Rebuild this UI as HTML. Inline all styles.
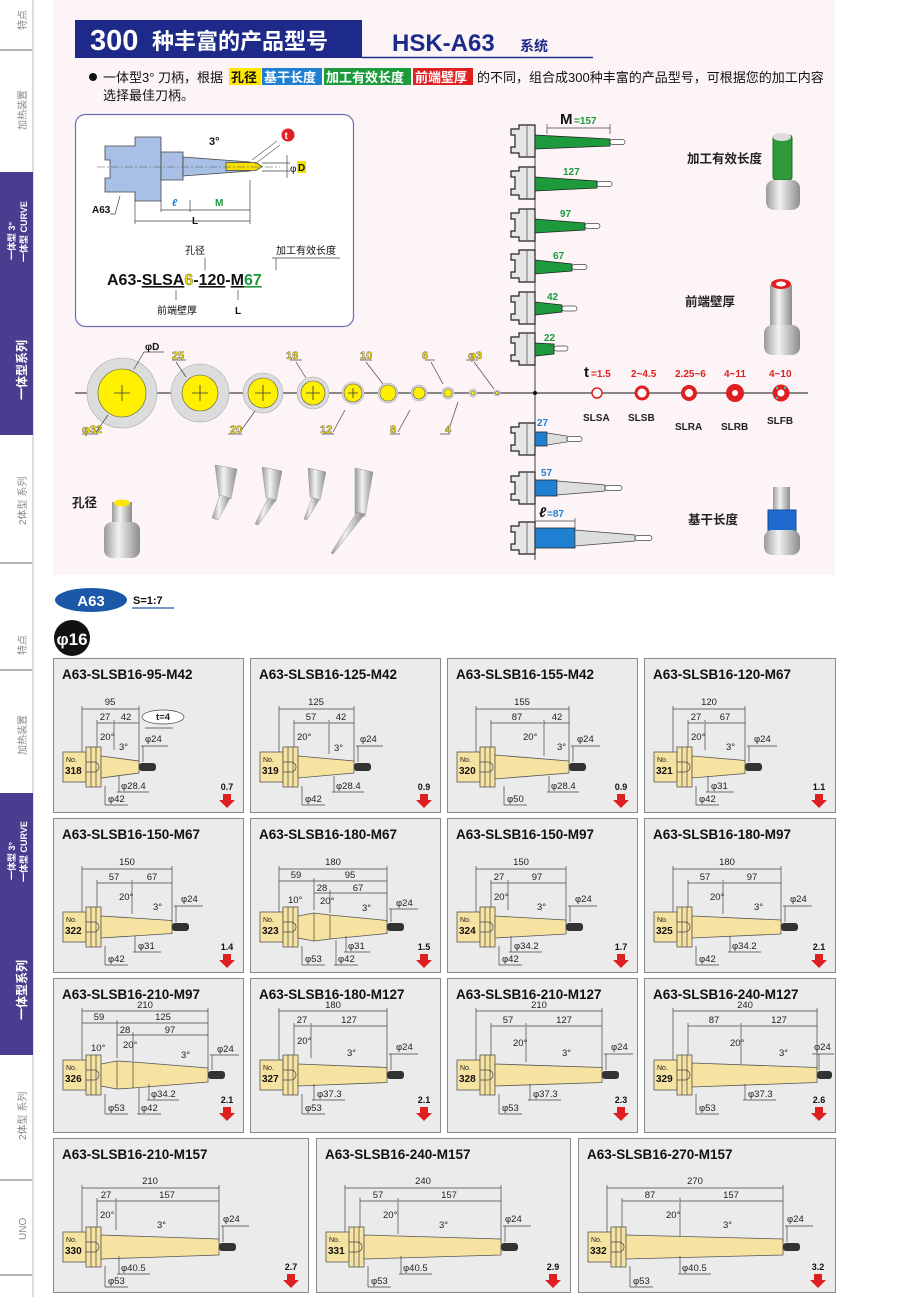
<!DOCTYPE html>
<html><head><meta charset="utf-8"><style>
body{margin:0;background:#fff}
svg{display:block;font-family:"Liberation Sans","Noto Sans CJK SC",sans-serif}
.cd{fill:#ebebeb;stroke:#8a8a8a;stroke-width:1}
.ct{font-size:13.5px;font-weight:bold;fill:#111}
.d{stroke:#444;stroke-width:.7;fill:none}
.dt{font-size:9.5px;fill:#222}
.b{fill:#f6e3a2;stroke:#555;stroke-width:.8}
.no{font-size:7px;fill:#222}
.nb{font-size:10px;font-weight:bold;fill:#111}
.rn{font-size:9px;font-weight:bold;fill:#111}
.ra{fill:#e02020}
.sb{font-size:10px;fill:#888}
.yl{font-size:11px;font-weight:bold;fill:#ffe600;stroke:#333;stroke-width:.35}
.gn{font-size:10px;font-weight:bold;fill:#1c9a3c}
.bl{font-size:10px;font-weight:bold;fill:#1f7fd0}
.rd{font-size:10px;font-weight:bold;fill:#e02020}
.lb{font-size:10px;font-weight:bold;fill:#222}
.cn{font-size:12.5px;font-weight:bold;fill:#222}
</style></head><body>
<svg width="900" height="1297" viewBox="0 0 900 1297" xmlns="http://www.w3.org/2000/svg">
<defs>
<g id="hd">
<rect x="10" y="94" width="23" height="30" class="b"/>
<rect x="33" y="89" width="15" height="40" class="b"/>
<path d="M38 89V129M43 89V129" class="d"/>
<path d="M33 104h8a5 5 0 0 1 0 10h-8" class="d"/>
</g>
<g id="gh">
<path d="M511 -12h8v-4h16v32h-16v-4h-8v-6h4v-12h-4z" fill="#e6e6e6" stroke="#222" stroke-width="1.2"/>
<path d="M527 -16v32" stroke="#555" stroke-width=".8"/>
</g>
<linearGradient id="cyl" x1="0" x2="1"><stop offset="0" stop-color="#9a9a9a"/><stop offset=".4" stop-color="#f2f2f2"/><stop offset="1" stop-color="#8c8c8c"/></linearGradient>
</defs>

<!-- sidebar -->
<line x1="33" y1="0" x2="33" y2="1297" stroke="#bbb" stroke-width="1"/>
<rect x="0" y="172" width="33" height="263" fill="#4a3d8f"/>
<rect x="0" y="793" width="33" height="262" fill="#4a3d8f"/>
<path d="M0 50H32M0 563H32M0 670H32M0 1180H32M0 1275H32" stroke="#888" stroke-width="1.2"/>
<text class="sb" transform="translate(26,30) rotate(-90)">特点</text>
<text class="sb" transform="translate(26,130) rotate(-90)">加热装置</text>
<text transform="translate(15,260) rotate(-90)" font-size="9" font-weight="bold" fill="#fff">一体型 3°</text>
<text transform="translate(27,262) rotate(-90)" font-size="9" font-weight="bold" fill="#fff">一体型 CURVE</text>
<text transform="translate(26,400) rotate(-90)" font-size="12" font-weight="bold" fill="#fff">一体型系列</text>
<text class="sb" transform="translate(26,525) rotate(-90)">2体型 系列</text>
<text class="sb" transform="translate(26,655) rotate(-90)">特点</text>
<text class="sb" transform="translate(26,755) rotate(-90)">加热装置</text>
<text transform="translate(15,880) rotate(-90)" font-size="9" font-weight="bold" fill="#fff">一体型 3°</text>
<text transform="translate(27,882) rotate(-90)" font-size="9" font-weight="bold" fill="#fff">一体型 CURVE</text>
<text transform="translate(26,1020) rotate(-90)" font-size="12" font-weight="bold" fill="#fff">一体型系列</text>
<text class="sb" transform="translate(26,1140) rotate(-90)">2体型 系列</text>
<text class="sb" transform="translate(26,1240) rotate(-90)">UNO</text>

<!-- top pink area -->
<rect x="53" y="0" width="782" height="575" fill="#fdf4f8"/>
<rect x="75" y="20" width="287" height="38" fill="#1e2a8a"/>
<text x="90" y="50" font-size="29" font-weight="bold" fill="#fff">300</text>
<text x="152" y="49" font-size="22" font-weight="bold" fill="#fff">种丰富的产品型号</text>
<line x1="362" y1="57.5" x2="593" y2="57.5" stroke="#1e2a8a" stroke-width="1.5"/>
<text x="392" y="51" font-size="24" font-weight="bold" fill="#1e2a8a">HSK-A63</text>
<text x="520" y="51" font-size="14" font-weight="bold" fill="#1e2a8a">系统</text>

<circle cx="93" cy="77" r="4" fill="#111"/>
<text x="103" y="82" font-size="13" fill="#111">一体型3° 刀柄，根据</text>
<rect x="229" y="68" width="32" height="17" fill="#ffe800"/>
<text x="231" y="82" font-size="13" font-weight="bold" fill="#111">孔径</text>
<rect x="262" y="68" width="60" height="17" fill="#1f7fd0"/>
<text x="264" y="82" font-size="13" font-weight="bold" fill="#fff">基干长度</text>
<rect x="324" y="68" width="87" height="17" fill="#1c9a3c"/>
<text x="326" y="82" font-size="13" font-weight="bold" fill="#fff">加工有效长度</text>
<rect x="413" y="68" width="60" height="17" fill="#e02020"/>
<text x="415" y="82" font-size="13" font-weight="bold" fill="#fff">前端壁厚</text>
<text x="477" y="82" font-size="13" fill="#111">的不同，组合成300种丰富的产品型号，可根据您的加工内容</text>
<text x="103" y="100" font-size="13" fill="#111">选择最佳刀柄。</text>

<!-- diagram box -->
<rect x="75.5" y="114.5" width="278" height="212" rx="10" fill="#fff" stroke="#6a6fb5" stroke-width="1.2"/>
<path d="M105 146h30v-9h26v64h-26v-9h-30v-14h5v-18h-5z" fill="#a9c0e6" stroke="#444" stroke-width=".8"/>
<path d="M161 152h22v28h-22z" fill="#a9c0e6" stroke="#444" stroke-width=".8"/>
<path d="M183 157L250 162V171L183 176z" fill="#a9c0e6" stroke="#444" stroke-width=".8"/>
<path d="M226 162.5h30l6 4l-6 4h-30z" fill="#f5df00" stroke="#444" stroke-width=".8"/>
<path d="M97 167H280" stroke="#555" stroke-width=".6" stroke-dasharray="8 2 2 2"/>
<path d="M209 114" />
<text x="209" y="145" font-size="11" font-weight="bold" fill="#111">3°</text>
<circle cx="288" cy="135" r="6.5" fill="#e02020"/><text x="284.5" y="139" font-size="10" font-weight="bold" fill="#fff">t</text>
<path d="M252 160L277 141M255 164L280 145" stroke="#666" stroke-width=".7"/>
<path d="M262 163H290M262 171H290M287 155V178" class="d"/>
<text x="290" y="172" font-size="10" fill="#111">φ</text>
<rect x="297" y="161" width="9" height="12" fill="#f5df00"/><text x="298" y="171" font-size="10" font-weight="bold" fill="#111">D</text>
<text x="92" y="213" font-size="10" font-weight="bold" fill="#111">A63</text>
<path d="M110 214h5l5-18" class="d"/>
<path d="M135 200V224M161 200V212M190 200V212M250 180V224M161 210H250M135 221H250" class="d"/>
<text x="172" y="206" font-size="10" font-weight="bold" fill="#1f7fd0" font-style="italic">ℓ</text>
<text x="215" y="206" font-size="10" font-weight="bold" fill="#1c9a3c">M</text>
<text x="192" y="224" font-size="10" font-weight="bold" fill="#111">L</text>
<text x="185" y="254" font-size="10" fill="#111">孔径</text>
<text x="276" y="254" font-size="10" fill="#111">加工有效长度</text>
<path d="M205 258v12M276 258v12M272 258H340" class="d"/>
<text x="107" y="285" font-size="16" font-weight="bold" fill="#111">A63-<tspan text-decoration="underline">SLSA</tspan><tspan fill="#f5df00" stroke="#555" stroke-width=".4">6</tspan>-<tspan text-decoration="underline">120</tspan>-<tspan text-decoration="underline">M</tspan><tspan fill="#1c9a3c" text-decoration="underline">67</tspan></text>
<path d="M176 290v10M238 290v10" class="d"/>
<text x="157" y="314" font-size="10" fill="#111">前端壁厚</text>
<text x="235" y="314" font-size="10" font-weight="bold" fill="#111">L</text>

<!-- axis -->
<line x1="75" y1="393" x2="808" y2="393" stroke="#444" stroke-width="1.2"/>
<line x1="535" y1="130" x2="535" y2="560" stroke="#444" stroke-width="1"/>
<circle cx="535" cy="393" r="2" fill="#111"/>
<g stroke="#aaa" stroke-width=".6">
<circle cx="122" cy="393" r="35" fill="#dcdcdc"/><circle cx="122" cy="393" r="24" fill="#ffef00" stroke="#555"/>
<circle cx="200" cy="393" r="29" fill="#dcdcdc"/><circle cx="200" cy="393" r="18" fill="#ffef00" stroke="#555"/>
<circle cx="263" cy="393" r="20" fill="#dcdcdc"/><circle cx="263" cy="393" r="15" fill="#ffef00" stroke="#555"/>
<circle cx="313" cy="393" r="16" fill="#dcdcdc"/><circle cx="313" cy="393" r="12" fill="#ffef00" stroke="#555"/>
<circle cx="353" cy="393" r="11" fill="#dcdcdc"/><circle cx="353" cy="393" r="9" fill="#ffef00" stroke="#555"/>
<circle cx="388" cy="393" r="10" fill="#dcdcdc"/><circle cx="388" cy="393" r="8" fill="#ffef00" stroke="#555"/>
<circle cx="419" cy="393" r="8" fill="#dcdcdc"/><circle cx="419" cy="393" r="6" fill="#ffef00" stroke="#555"/>
<circle cx="448" cy="393" r="6" fill="#dcdcdc"/><circle cx="448" cy="393" r="4" fill="#ffef00" stroke="#555"/>
<circle cx="473" cy="393" r="4" fill="#dcdcdc"/><circle cx="473" cy="393" r="2" fill="#ffef00" stroke="#555"/>
<circle cx="497" cy="393" r="3" fill="#dcdcdc"/><circle cx="497" cy="393" r="1.5" fill="#ffef00" stroke="#555"/>
</g>
<g stroke="#333" stroke-width=".8">
<path d="M114 393h16M122 385v16M192 393h16M200 385v16M255 393h16M263 385v16M306 393h14M313 386v14M348 393h10M353 388v10"/>
</g>
<g class="d">
<path d="M144 352h20M144 352l-10 17M172 360h14M176 362l10 15M290 360h12M296 362l10 16M360 360h12M366 362l17 22M425 360h10M431 362l12 22M466 360h12M474 362l20 27"/>
<path d="M82 434h16M96 432l12 -17M228 434h14M240 432l15-21M322 434h12M333 432l12-22M390 434h10M398 432l12-22M440 434h10M448 432l10-30"/>
</g>
<text x="145" y="350" font-size="10" font-weight="bold" fill="#111">φD</text>
<text x="172" y="359" class="yl">25</text>
<text x="286" y="359" class="yl">16</text>
<text x="360" y="359" class="yl">10</text>
<text x="422" y="359" class="yl">6</text>
<text x="468" y="359" class="yl">φ3</text>
<text x="82" y="433" class="yl">φ32</text>
<text x="230" y="433" class="yl">20</text>
<text x="320" y="433" class="yl">12</text>
<text x="390" y="433" class="yl">8</text>
<text x="445" y="433" class="yl">4</text>

<!-- wall thickness rings -->
<circle cx="597" cy="393" r="5" fill="#fff" stroke="#e02020" stroke-width="1.5"/>
<circle cx="642" cy="393" r="6" fill="#fff" stroke="#e02020" stroke-width="3"/>
<circle cx="689" cy="393" r="6" fill="#fff" stroke="#e02020" stroke-width="4"/>
<circle cx="735" cy="393" r="6" fill="#fff" stroke="#e02020" stroke-width="6"/>
<circle cx="781" cy="393" r="6" fill="#fff" stroke="#e02020" stroke-width="5"/>
<circle cx="777" cy="388" r="1.2" fill="#2cc"/><circle cx="785" cy="388" r="1.2" fill="#2cc"/><circle cx="777" cy="398" r="1.2" fill="#2cc"/>
<text x="584" y="377" font-size="15" font-weight="bold" fill="#111">t</text><text x="591" y="377" class="rd">=1.5</text>
<text x="631" y="377" class="rd">2~4.5</text>
<text x="675" y="377" class="rd">2.25~6</text>
<text x="724" y="377" class="rd">4~11</text>
<text x="769" y="377" class="rd">4~10</text>
<text x="583" y="421" class="lb">SLSA</text>
<text x="628" y="421" class="lb">SLSB</text>
<text x="675" y="430" class="lb">SLRA</text>
<text x="721" y="430" class="lb">SLRB</text>
<text x="767" y="424" class="lb">SLFB</text>

<!-- green holders -->
<g><use href="#gh" transform="translate(0,141)"/><path d="M535 135L610 139V146L535 149z" fill="#1c9a3c" stroke="#222" stroke-width=".8"/><rect x="610" y="139.5" width="15" height="5" rx="2.5" fill="#fff" stroke="#444" stroke-width=".7"/></g>
<g><use href="#gh" transform="translate(0,183)"/><path d="M535 177L597 181V188L535 191z" fill="#1c9a3c" stroke="#222" stroke-width=".8"/><rect x="597" y="181.5" width="15" height="5" rx="2.5" fill="#fff" stroke="#444" stroke-width=".7"/></g>
<g><use href="#gh" transform="translate(0,225)"/><path d="M535 219L585 223V230L535 233z" fill="#1c9a3c" stroke="#222" stroke-width=".8"/><rect x="585" y="223.5" width="15" height="5" rx="2.5" fill="#fff" stroke="#444" stroke-width=".7"/></g>
<g><use href="#gh" transform="translate(0,266)"/><path d="M535 260L572 264V271L535 274z" fill="#1c9a3c" stroke="#222" stroke-width=".8"/><rect x="572" y="264.5" width="15" height="5" rx="2.5" fill="#fff" stroke="#444" stroke-width=".7"/></g>
<g><use href="#gh" transform="translate(0,308)"/><path d="M535 302L562 305V312L535 315z" fill="#1c9a3c" stroke="#222" stroke-width=".8"/><rect x="562" y="306" width="15" height="5" rx="2.5" fill="#fff" stroke="#444" stroke-width=".7"/></g>
<g><use href="#gh" transform="translate(0,349)"/><path d="M535 343L554 344V354L535 356z" fill="#1c9a3c" stroke="#222" stroke-width=".8"/><rect x="554" y="346" width="14" height="5" rx="2.5" fill="#fff" stroke="#444" stroke-width=".7"/></g>
<path d="M547 128H610M547 124V134M610 124V134" class="d"/>
<text x="560" y="124" font-size="15" font-weight="bold" fill="#111">M</text><text x="574" y="124" class="gn">=157</text>
<text x="563" y="175" class="gn">127</text>
<text x="560" y="217" class="gn">97</text>
<text x="553" y="259" class="gn">67</text>
<text x="547" y="300" class="gn">42</text>
<text x="544" y="341" class="gn">22</text>
<!-- blue holders -->
<g><use href="#gh" transform="translate(0,439)"/><rect x="535" y="432" width="12" height="14" fill="#1f7fd0" stroke="#222" stroke-width=".8"/><path d="M547 433L567 436V442L547 445z" fill="#ddd" stroke="#444" stroke-width=".7"/><rect x="567" y="436.5" width="15" height="5" rx="2.5" fill="#fff" stroke="#444" stroke-width=".7"/></g>
<g><use href="#gh" transform="translate(0,488)"/><rect x="535" y="480" width="22" height="16" fill="#1f7fd0" stroke="#222" stroke-width=".8"/><path d="M557 481L605 485V491L557 495z" fill="#ddd" stroke="#444" stroke-width=".7"/><rect x="605" y="485.5" width="17" height="5" rx="2.5" fill="#fff" stroke="#444" stroke-width=".7"/></g>
<g><use href="#gh" transform="translate(0,538)"/><rect x="535" y="528" width="40" height="20" fill="#1f7fd0" stroke="#222" stroke-width=".8"/><path d="M575 530L635 535V541L575 546z" fill="#ddd" stroke="#444" stroke-width=".7"/><rect x="635" y="535.5" width="17" height="5" rx="2.5" fill="#fff" stroke="#444" stroke-width=".7"/></g>
<text x="537" y="426" class="bl">27</text>
<text x="541" y="476" class="bl">57</text>
<text x="539" y="517" font-size="14" font-weight="bold" font-style="italic" fill="#111">ℓ</text><text x="547" y="517" class="bl">=87</text>
<path d="M535 521H575M575 518V528" class="d"/>

<text x="687" y="163" class="cn">加工有效长度</text>
<text x="685" y="306" class="cn">前端壁厚</text>
<text x="688" y="524" class="cn">基干长度</text>
<text x="72" y="507" class="cn">孔径</text>

<!-- photo cylinders -->
<rect x="773" y="135" width="19" height="45" rx="3" fill="#2f9a3a" stroke="#1e6a27"/>
<ellipse cx="782" cy="137" rx="9" ry="4" fill="#ddd"/>
<rect x="766" y="180" width="34" height="30" rx="8" fill="url(#cyl)"/>
<rect x="770" y="285" width="22" height="45" fill="url(#cyl)"/>
<ellipse cx="781" cy="284" rx="10" ry="5" fill="#e02020"/><ellipse cx="781" cy="284" rx="5" ry="2.5" fill="#fff"/>
<rect x="764" y="325" width="36" height="30" rx="8" fill="url(#cyl)"/>
<rect x="773" y="487" width="17" height="25" fill="url(#cyl)"/>
<rect x="768" y="510" width="28" height="22" fill="#1f6ad0" stroke="#134a98"/>
<rect x="764" y="530" width="36" height="25" rx="8" fill="url(#cyl)"/>
<rect x="112" y="502" width="20" height="22" fill="url(#cyl)"/>
<ellipse cx="122" cy="503" rx="8" ry="3.5" fill="#ffe800"/>
<rect x="104" y="522" width="36" height="36" rx="8" fill="url(#cyl)"/>
<g fill="url(#cyl)" stroke="#999" stroke-width=".5">
<path d="M215 465l22 4l-6 30l-12-3z"/><path d="M220 495l10 3l-12 22l-6-2z"/>
<path d="M262 467l20 4l-6 30l-10-3z"/><path d="M268 498l8 2l-18 25l-3-1z"/>
<path d="M308 468l18 4l-6 28l-10-3z"/><path d="M312 498l7 2l-12 20l-3-1z"/>
<path d="M355 468l18 4l-8 45l-10-3z"/><path d="M357 512l8 2l-32 40l-2-1z"/>
</g>

<!-- A63 / scale -->
<ellipse cx="91" cy="600" rx="36" ry="12" fill="#1c58a8"/>
<text x="91" y="606" text-anchor="middle" font-size="15" font-weight="bold" fill="#fff">A63</text>
<text x="133" y="604" font-size="11" font-weight="bold" fill="#111">S=1:7</text>
<line x1="132" y1="608" x2="174" y2="608" stroke="#1c58a8" stroke-width="1.2"/>
<circle cx="72" cy="638" r="18" fill="#111"/>
<text x="72" y="645" text-anchor="middle" font-size="17" font-weight="bold" fill="#fff">φ16</text>

<!-- ROW 1 -->
<g transform="translate(53,658)">
<rect x=".5" y=".5" width="190" height="154" class="cd"/>
<text x="9" y="21" class="ct">A63-SLSB16-95-M42</text>
<path class="d" d="M29 51H86M44 65H60M61 65H86M29 48V100M86 48V104M44 62V90M61 62V92"/>
<text x="57" y="47" class="dt" text-anchor="middle">95</text><text x="52" y="62" class="dt" text-anchor="middle">27</text><text x="73" y="62" class="dt" text-anchor="middle">42</text>
<ellipse cx="110" cy="59" rx="21" ry="7" fill="#fff" stroke="#444" stroke-width=".7"/><text x="110" y="62" class="dt" text-anchor="middle" font-weight="bold">t=4</text>
<path class="d" d="M92 70H120"/>
<use href="#hd"/><polygon class="b" points="48,98 86,103 86,115 48,120"/><rect x="86" y="105" width="17" height="8" rx="3" fill="#333"/>
<text x="13" y="104" class="no">No.</text><text x="12" y="116" class="nb">318</text>
<text x="47" y="82" class="dt">20°</text><text x="66" y="92" class="dt">3°</text>
<text x="92" y="84" class="dt">φ24</text><path class="d" d="M88 88H115M90 88V104"/>
<text x="68" y="131" class="dt">φ28.4</text><path class="d" d="M64 134H96M66 134V118"/>
<text x="55" y="144" class="dt">φ42</text><path class="d" d="M52 147H75M52 147V128"/>
<text x="174" y="132" class="rn" text-anchor="middle">0.7</text><path class="ra" d="M170 136h8v6h4l-8 8l-8-8h4z"/>
</g>
<g transform="translate(250,658)">
<rect x=".5" y=".5" width="190" height="154" class="cd"/>
<text x="9" y="21" class="ct">A63-SLSB16-125-M42</text>
<path class="d" d="M29 51H104M44 65H78M79 65H104M29 48V100M104 48V104M44 62V90M79 62V96"/>
<text x="66" y="47" class="dt" text-anchor="middle">125</text><text x="61" y="62" class="dt" text-anchor="middle">57</text><text x="91" y="62" class="dt" text-anchor="middle">42</text>
<use href="#hd"/><polygon class="b" points="48,98 104,103 104,115 48,120"/><rect x="104" y="105" width="17" height="8" rx="3" fill="#333"/>
<text x="13" y="104" class="no">No.</text><text x="12" y="116" class="nb">319</text>
<text x="47" y="82" class="dt">20°</text><text x="84" y="93" class="dt">3°</text>
<text x="110" y="84" class="dt">φ24</text><path class="d" d="M106 88H133M108 88V104"/>
<text x="86" y="131" class="dt">φ28.4</text><path class="d" d="M82 134H114M84 134V118"/>
<text x="55" y="144" class="dt">φ42</text><path class="d" d="M52 147H75M52 147V128"/>
<text x="174" y="132" class="rn" text-anchor="middle">0.9</text><path class="ra" d="M170 136h8v6h4l-8 8l-8-8h4z"/>
</g>
<g transform="translate(447,658)">
<rect x=".5" y=".5" width="190" height="154" class="cd"/>
<text x="9" y="21" class="ct">A63-SLSB16-155-M42</text>
<path class="d" d="M29 51H122M44 65H96M97 65H122M29 48V100M122 48V104M44 62V90M97 62V98"/>
<text x="75" y="47" class="dt" text-anchor="middle">155</text><text x="70" y="62" class="dt" text-anchor="middle">87</text><text x="110" y="62" class="dt" text-anchor="middle">42</text>
<use href="#hd"/><polygon class="b" points="48,97 122,103 122,115 48,121"/><rect x="122" y="105" width="17" height="8" rx="3" fill="#333"/>
<text x="13" y="104" class="no">No.</text><text x="12" y="116" class="nb">320</text>
<text x="76" y="82" class="dt">20°</text><text x="110" y="92" class="dt">3°</text>
<text x="130" y="84" class="dt">φ24</text><path class="d" d="M124 88H153M126 88V104"/>
<text x="104" y="131" class="dt">φ28.4</text><path class="d" d="M100 134H132M102 134V118"/>
<text x="60" y="144" class="dt">φ50</text><path class="d" d="M57 147H80M57 147V128"/>
<text x="174" y="132" class="rn" text-anchor="middle">0.9</text><path class="ra" d="M170 136h8v6h4l-8 8l-8-8h4z"/>
</g>
<g transform="translate(644,658)">
<rect x=".5" y=".5" width="191" height="154" class="cd"/>
<text x="9" y="21" class="ct">A63-SLSB16-120-M67</text>
<path class="d" d="M29 51H101M44 65H60M61 65H101M29 48V100M101 48V104M44 62V90M61 62V92"/>
<text x="65" y="47" class="dt" text-anchor="middle">120</text><text x="52" y="62" class="dt" text-anchor="middle">27</text><text x="81" y="62" class="dt" text-anchor="middle">67</text>
<use href="#hd"/><polygon class="b" points="48,98 101,102.5 101,115.5 48,120"/><rect x="101" y="105" width="17" height="8" rx="3" fill="#333"/>
<text x="13" y="104" class="no">No.</text><text x="12" y="116" class="nb">321</text>
<text x="47" y="82" class="dt">20°</text><text x="82" y="92" class="dt">3°</text>
<text x="110" y="84" class="dt">φ24</text><path class="d" d="M103 88H133M105 88V104"/>
<text x="67" y="131" class="dt">φ31</text><path class="d" d="M62 134H90M64 134V118"/>
<text x="55" y="144" class="dt">φ42</text><path class="d" d="M52 147H75M52 147V128"/>
<text x="175" y="132" class="rn" text-anchor="middle">1.1</text><path class="ra" d="M171 136h8v6h4l-8 8l-8-8h4z"/>
</g>

<!-- ROW 2 -->
<g transform="translate(53,818)">
<rect x=".5" y=".5" width="190" height="154" class="cd"/>
<text x="9" y="21" class="ct">A63-SLSB16-150-M67</text>
<path class="d" d="M29 51H119M44 65H78M79 65H119M29 48V100M119 48V104M44 62V90M79 62V96"/>
<text x="74" y="47" class="dt" text-anchor="middle">150</text><text x="61" y="62" class="dt" text-anchor="middle">57</text><text x="99" y="62" class="dt" text-anchor="middle">67</text>
<use href="#hd"/><polygon class="b" points="48,98 119,102.5 119,115.5 48,120"/><rect x="119" y="105" width="17" height="8" rx="3" fill="#333"/>
<text x="13" y="104" class="no">No.</text><text x="12" y="116" class="nb">322</text>
<text x="66" y="82" class="dt">20°</text><text x="100" y="92" class="dt">3°</text>
<text x="128" y="84" class="dt">φ24</text><path class="d" d="M121 88H150M123 88V104"/>
<text x="85" y="131" class="dt">φ31</text><path class="d" d="M80 134H108M82 134V118"/>
<text x="55" y="144" class="dt">φ42</text><path class="d" d="M52 147H75M52 147V128"/>
<text x="174" y="132" class="rn" text-anchor="middle">1.4</text><path class="ra" d="M170 136h8v6h4l-8 8l-8-8h4z"/>
</g>
<g transform="translate(250,818)">
<rect x=".5" y=".5" width="190" height="154" class="cd"/>
<text x="9" y="21" class="ct">A63-SLSB16-180-M67</text>
<path class="d" d="M29 51H137M29 63H64M64 63H137M64 75H80M80 75H137M29 48V100M137 48V104M64 60V92M80 72V95"/>
<text x="83" y="47" class="dt" text-anchor="middle">180</text><text x="46" y="60" class="dt" text-anchor="middle">59</text><text x="100" y="60" class="dt" text-anchor="middle">95</text>
<text x="72" y="73" class="dt" text-anchor="middle">28</text><text x="108" y="73" class="dt" text-anchor="middle">67</text>
<use href="#hd"/><polygon class="b" points="48,98 64,95 80,97 137,102.5 137,115.5 80,121 64,123 48,120"/><path class="d" d="M64 95V123M80 97V121"/><rect x="137" y="105" width="17" height="8" rx="3" fill="#333"/>
<text x="13" y="104" class="no">No.</text><text x="12" y="116" class="nb">323</text>
<text x="38" y="85" class="dt">10°</text><text x="70" y="86" class="dt">20°</text><text x="112" y="93" class="dt">3°</text>
<text x="146" y="88" class="dt">φ24</text><path class="d" d="M139 91H168M141 91V104"/>
<text x="98" y="131" class="dt">φ31</text><path class="d" d="M94 134H120M96 134V118"/>
<text x="88" y="144" class="dt">φ42</text><path class="d" d="M84 147H108M86 147V122"/>
<text x="55" y="144" class="dt">φ53</text><path class="d" d="M52 147H75M52 147V128"/>
<text x="174" y="132" class="rn" text-anchor="middle">1.5</text><path class="ra" d="M170 136h8v6h4l-8 8l-8-8h4z"/>
</g>
<g transform="translate(447,818)">
<rect x=".5" y=".5" width="190" height="154" class="cd"/>
<text x="9" y="21" class="ct">A63-SLSB16-150-M97</text>
<path class="d" d="M29 51H119M44 65H60M61 65H119M29 48V100M119 48V104M44 62V90M61 62V92"/>
<text x="74" y="47" class="dt" text-anchor="middle">150</text><text x="52" y="62" class="dt" text-anchor="middle">27</text><text x="90" y="62" class="dt" text-anchor="middle">97</text>
<use href="#hd"/><polygon class="b" points="48,98 119,102 119,116 48,120"/><rect x="119" y="105" width="17" height="8" rx="3" fill="#333"/>
<text x="13" y="104" class="no">No.</text><text x="12" y="116" class="nb">324</text>
<text x="47" y="82" class="dt">20°</text><text x="90" y="92" class="dt">3°</text>
<text x="128" y="84" class="dt">φ24</text><path class="d" d="M121 88H150M123 88V104"/>
<text x="67" y="131" class="dt">φ34.2</text><path class="d" d="M62 134H95M64 134V118"/>
<text x="55" y="144" class="dt">φ42</text><path class="d" d="M52 147H75M52 147V128"/>
<text x="174" y="132" class="rn" text-anchor="middle">1.7</text><path class="ra" d="M170 136h8v6h4l-8 8l-8-8h4z"/>
</g>
<g transform="translate(644,818)">
<rect x=".5" y=".5" width="191" height="154" class="cd"/>
<text x="9" y="21" class="ct">A63-SLSB16-180-M97</text>
<path class="d" d="M29 51H137M44 65H78M79 65H137M29 48V100M137 48V104M44 62V90M79 62V96"/>
<text x="83" y="47" class="dt" text-anchor="middle">180</text><text x="61" y="62" class="dt" text-anchor="middle">57</text><text x="108" y="62" class="dt" text-anchor="middle">97</text>
<use href="#hd"/><polygon class="b" points="48,98 137,102 137,116 48,120"/><rect x="137" y="105" width="17" height="8" rx="3" fill="#333"/>
<text x="13" y="104" class="no">No.</text><text x="12" y="116" class="nb">325</text>
<text x="66" y="82" class="dt">20°</text><text x="110" y="92" class="dt">3°</text>
<text x="146" y="84" class="dt">φ24</text><path class="d" d="M139 88H168M141 88V104"/>
<text x="88" y="131" class="dt">φ34.2</text><path class="d" d="M84 134H117M86 134V118"/>
<text x="55" y="144" class="dt">φ42</text><path class="d" d="M52 147H75M52 147V128"/>
<text x="175" y="132" class="rn" text-anchor="middle">2.1</text><path class="ra" d="M171 136h8v6h4l-8 8l-8-8h4z"/>
</g>

<!-- ROW 3 -->
<g transform="translate(53,978)">
<rect x=".5" y=".5" width="190" height="154" class="cd"/>
<text x="9" y="21" class="ct">A63-SLSB16-210-M97</text>
<g transform="translate(0,-12)">
<path class="d" d="M29 45H155M29 57H64M64 57H155M64 69H80M80 69H155M29 42V100M155 42V104M64 54V92M80 66V95"/>
<text x="92" y="42" class="dt" text-anchor="middle">210</text><text x="46" y="54" class="dt" text-anchor="middle">59</text><text x="110" y="54" class="dt" text-anchor="middle">125</text>
<text x="72" y="67" class="dt" text-anchor="middle">28</text><text x="117" y="67" class="dt" text-anchor="middle">97</text>
<use href="#hd"/><polygon class="b" points="48,98 64,95 80,96 155,102 155,116 80,122 64,123 48,120"/><path class="d" d="M64 95V123M80 96V122"/><rect x="155" y="105" width="17" height="8" rx="3" fill="#333"/>
<text x="13" y="104" class="no">No.</text><text x="12" y="116" class="nb">326</text>
<text x="38" y="85" class="dt">10°</text><text x="70" y="82" class="dt">20°</text><text x="128" y="92" class="dt">3°</text>
<text x="164" y="86" class="dt">φ24</text><path class="d" d="M157 89H186M159 89V104"/>
<text x="98" y="131" class="dt">φ34.2</text><path class="d" d="M94 134H126M96 134V118"/>
<text x="88" y="145" class="dt">φ42</text><path class="d" d="M84 148H108M86 148V122"/>
<text x="55" y="145" class="dt">φ53</text><path class="d" d="M52 148H75M52 148V128"/>
<text x="174" y="137" class="rn" text-anchor="middle">2.1</text><path class="ra" d="M170 141h8v6h4l-8 8l-8-8h4z"/>
</g></g>
<g transform="translate(250,978)">
<rect x=".5" y=".5" width="190" height="154" class="cd"/>
<text x="9" y="21" class="ct">A63-SLSB16-180-M127</text>
<g transform="translate(0,-12)">
<path class="d" d="M29 45H137M44 60H60M61 60H137M29 42V100M137 42V104M44 57V90M61 57V92"/>
<text x="83" y="42" class="dt" text-anchor="middle">180</text><text x="52" y="57" class="dt" text-anchor="middle">27</text><text x="99" y="57" class="dt" text-anchor="middle">127</text>
<use href="#hd"/><polygon class="b" points="48,98 137,101.5 137,116.5 48,120"/><rect x="137" y="105" width="17" height="8" rx="3" fill="#333"/>
<text x="13" y="104" class="no">No.</text><text x="12" y="116" class="nb">327</text>
<text x="47" y="78" class="dt">20°</text><text x="97" y="90" class="dt">3°</text>
<text x="146" y="84" class="dt">φ24</text><path class="d" d="M139 88H168M141 88V104"/>
<text x="67" y="131" class="dt">φ37.3</text><path class="d" d="M62 134H95M64 134V118"/>
<text x="55" y="145" class="dt">φ53</text><path class="d" d="M52 148H75M52 148V128"/>
<text x="174" y="137" class="rn" text-anchor="middle">2.1</text><path class="ra" d="M170 141h8v6h4l-8 8l-8-8h4z"/>
</g></g>
<g transform="translate(447,978)">
<rect x=".5" y=".5" width="190" height="154" class="cd"/>
<text x="9" y="21" class="ct">A63-SLSB16-210-M127</text>
<g transform="translate(0,-12)">
<path class="d" d="M29 45H155M44 60H78M79 60H155M29 42V100M155 42V104M44 57V90M79 57V96"/>
<text x="92" y="42" class="dt" text-anchor="middle">210</text><text x="61" y="57" class="dt" text-anchor="middle">57</text><text x="117" y="57" class="dt" text-anchor="middle">127</text>
<use href="#hd"/><polygon class="b" points="48,98 155,101.5 155,116.5 48,120"/><rect x="155" y="105" width="17" height="8" rx="3" fill="#333"/>
<text x="13" y="104" class="no">No.</text><text x="12" y="116" class="nb">328</text>
<text x="66" y="80" class="dt">20°</text><text x="115" y="90" class="dt">3°</text>
<text x="164" y="84" class="dt">φ24</text><path class="d" d="M157 88H186M159 88V104"/>
<text x="86" y="131" class="dt">φ37.3</text><path class="d" d="M81 134H114M83 134V118"/>
<text x="55" y="145" class="dt">φ53</text><path class="d" d="M52 148H75M52 148V128"/>
<text x="174" y="137" class="rn" text-anchor="middle">2.3</text><path class="ra" d="M170 141h8v6h4l-8 8l-8-8h4z"/>
</g></g>
<g transform="translate(644,978)">
<rect x=".5" y=".5" width="191" height="154" class="cd"/>
<text x="9" y="21" class="ct">A63-SLSB16-240-M127</text>
<g transform="translate(0,-12)">
<path class="d" d="M29 45H173M44 60H96M97 60H173M29 42V100M173 42V104M44 57V90M97 57V98"/>
<text x="101" y="42" class="dt" text-anchor="middle">240</text><text x="70" y="57" class="dt" text-anchor="middle">87</text><text x="135" y="57" class="dt" text-anchor="middle">127</text>
<use href="#hd"/><polygon class="b" points="48,97 173,101.5 173,116.5 48,121"/><rect x="173" y="105" width="15" height="8" rx="3" fill="#333"/>
<text x="13" y="104" class="no">No.</text><text x="12" y="116" class="nb">329</text>
<text x="86" y="80" class="dt">20°</text><text x="135" y="90" class="dt">3°</text>
<text x="170" y="84" class="dt">φ24</text><path class="d" d="M168 88H190M175 88V104"/>
<text x="104" y="131" class="dt">φ37.3</text><path class="d" d="M99 134H132M101 134V118"/>
<text x="55" y="145" class="dt">φ53</text><path class="d" d="M52 148H75M52 148V128"/>
<text x="175" y="137" class="rn" text-anchor="middle">2.6</text><path class="ra" d="M171 141h8v6h4l-8 8l-8-8h4z"/>
</g></g>

<!-- ROW 4 -->
<g transform="translate(53,1138)">
<rect x=".5" y=".5" width="255" height="154" class="cd"/>
<text x="9" y="21" class="ct">A63-SLSB16-210-M157</text>
<path class="d" d="M29 50H166M44 63H62M63 63H166M29 47V100M166 47V104M44 60V90M63 60V92"/>
<text x="97" y="46" class="dt" text-anchor="middle">210</text><text x="53" y="60" class="dt" text-anchor="middle">27</text><text x="114" y="60" class="dt" text-anchor="middle">157</text>
<use href="#hd"/><polygon class="b" points="48,97 166,101 166,117 48,121"/><rect x="166" y="105" width="17" height="8" rx="3" fill="#333"/>
<text x="13" y="104" class="no">No.</text><text x="12" y="116" class="nb">330</text>
<text x="47" y="80" class="dt">20°</text><text x="104" y="90" class="dt">3°</text>
<text x="170" y="84" class="dt">φ24</text><path class="d" d="M168 88H196M170 88V104"/>
<text x="68" y="133" class="dt">φ40.5</text><path class="d" d="M64 136H97M66 136V118"/>
<text x="55" y="146" class="dt">φ53</text><path class="d" d="M52 149H75M52 149V128"/>
<text x="238" y="132" class="rn" text-anchor="middle">2.7</text><path class="ra" d="M234 136h8v6h4l-8 8l-8-8h4z"/>
</g>
<g transform="translate(316,1138)">
<rect x=".5" y=".5" width="254" height="154" class="cd"/>
<text x="9" y="21" class="ct">A63-SLSB16-240-M157</text>
<path class="d" d="M29 50H185M44 63H81M82 63H185M29 47V100M185 47V104M44 60V90M82 60V96"/>
<text x="107" y="46" class="dt" text-anchor="middle">240</text><text x="62" y="60" class="dt" text-anchor="middle">57</text><text x="133" y="60" class="dt" text-anchor="middle">157</text>
<use href="#hd"/><polygon class="b" points="48,97 185,101 185,117 48,121"/><rect x="185" y="105" width="17" height="8" rx="3" fill="#333"/>
<text x="13" y="104" class="no">No.</text><text x="12" y="116" class="nb">331</text>
<text x="67" y="80" class="dt">20°</text><text x="123" y="90" class="dt">3°</text>
<text x="189" y="84" class="dt">φ24</text><path class="d" d="M187 88H215M189 88V104"/>
<text x="87" y="133" class="dt">φ40.5</text><path class="d" d="M83 136H116M85 136V118"/>
<text x="55" y="146" class="dt">φ53</text><path class="d" d="M52 149H75M52 149V128"/>
<text x="237" y="132" class="rn" text-anchor="middle">2.9</text><path class="ra" d="M233 136h8v6h4l-8 8l-8-8h4z"/>
</g>
<g transform="translate(578,1138)">
<rect x=".5" y=".5" width="257" height="154" class="cd"/>
<text x="9" y="21" class="ct">A63-SLSB16-270-M157</text>
<path class="d" d="M29 50H205M44 63H101M102 63H205M29 47V100M205 47V104M44 60V90M102 60V98"/>
<text x="117" y="46" class="dt" text-anchor="middle">270</text><text x="72" y="60" class="dt" text-anchor="middle">87</text><text x="153" y="60" class="dt" text-anchor="middle">157</text>
<use href="#hd"/><polygon class="b" points="48,97 205,101 205,117 48,121"/><rect x="205" y="105" width="17" height="8" rx="3" fill="#333"/>
<text x="13" y="104" class="no">No.</text><text x="12" y="116" class="nb">332</text>
<text x="88" y="80" class="dt">20°</text><text x="145" y="90" class="dt">3°</text>
<text x="209" y="84" class="dt">φ24</text><path class="d" d="M207 88H235M209 88V104"/>
<text x="104" y="133" class="dt">φ40.5</text><path class="d" d="M100 136H133M102 136V118"/>
<text x="55" y="146" class="dt">φ53</text><path class="d" d="M52 149H75M52 149V128"/>
<text x="240" y="132" class="rn" text-anchor="middle">3.2</text><path class="ra" d="M236 136h8v6h4l-8 8l-8-8h4z"/>
</g>
</svg>
</body></html>
